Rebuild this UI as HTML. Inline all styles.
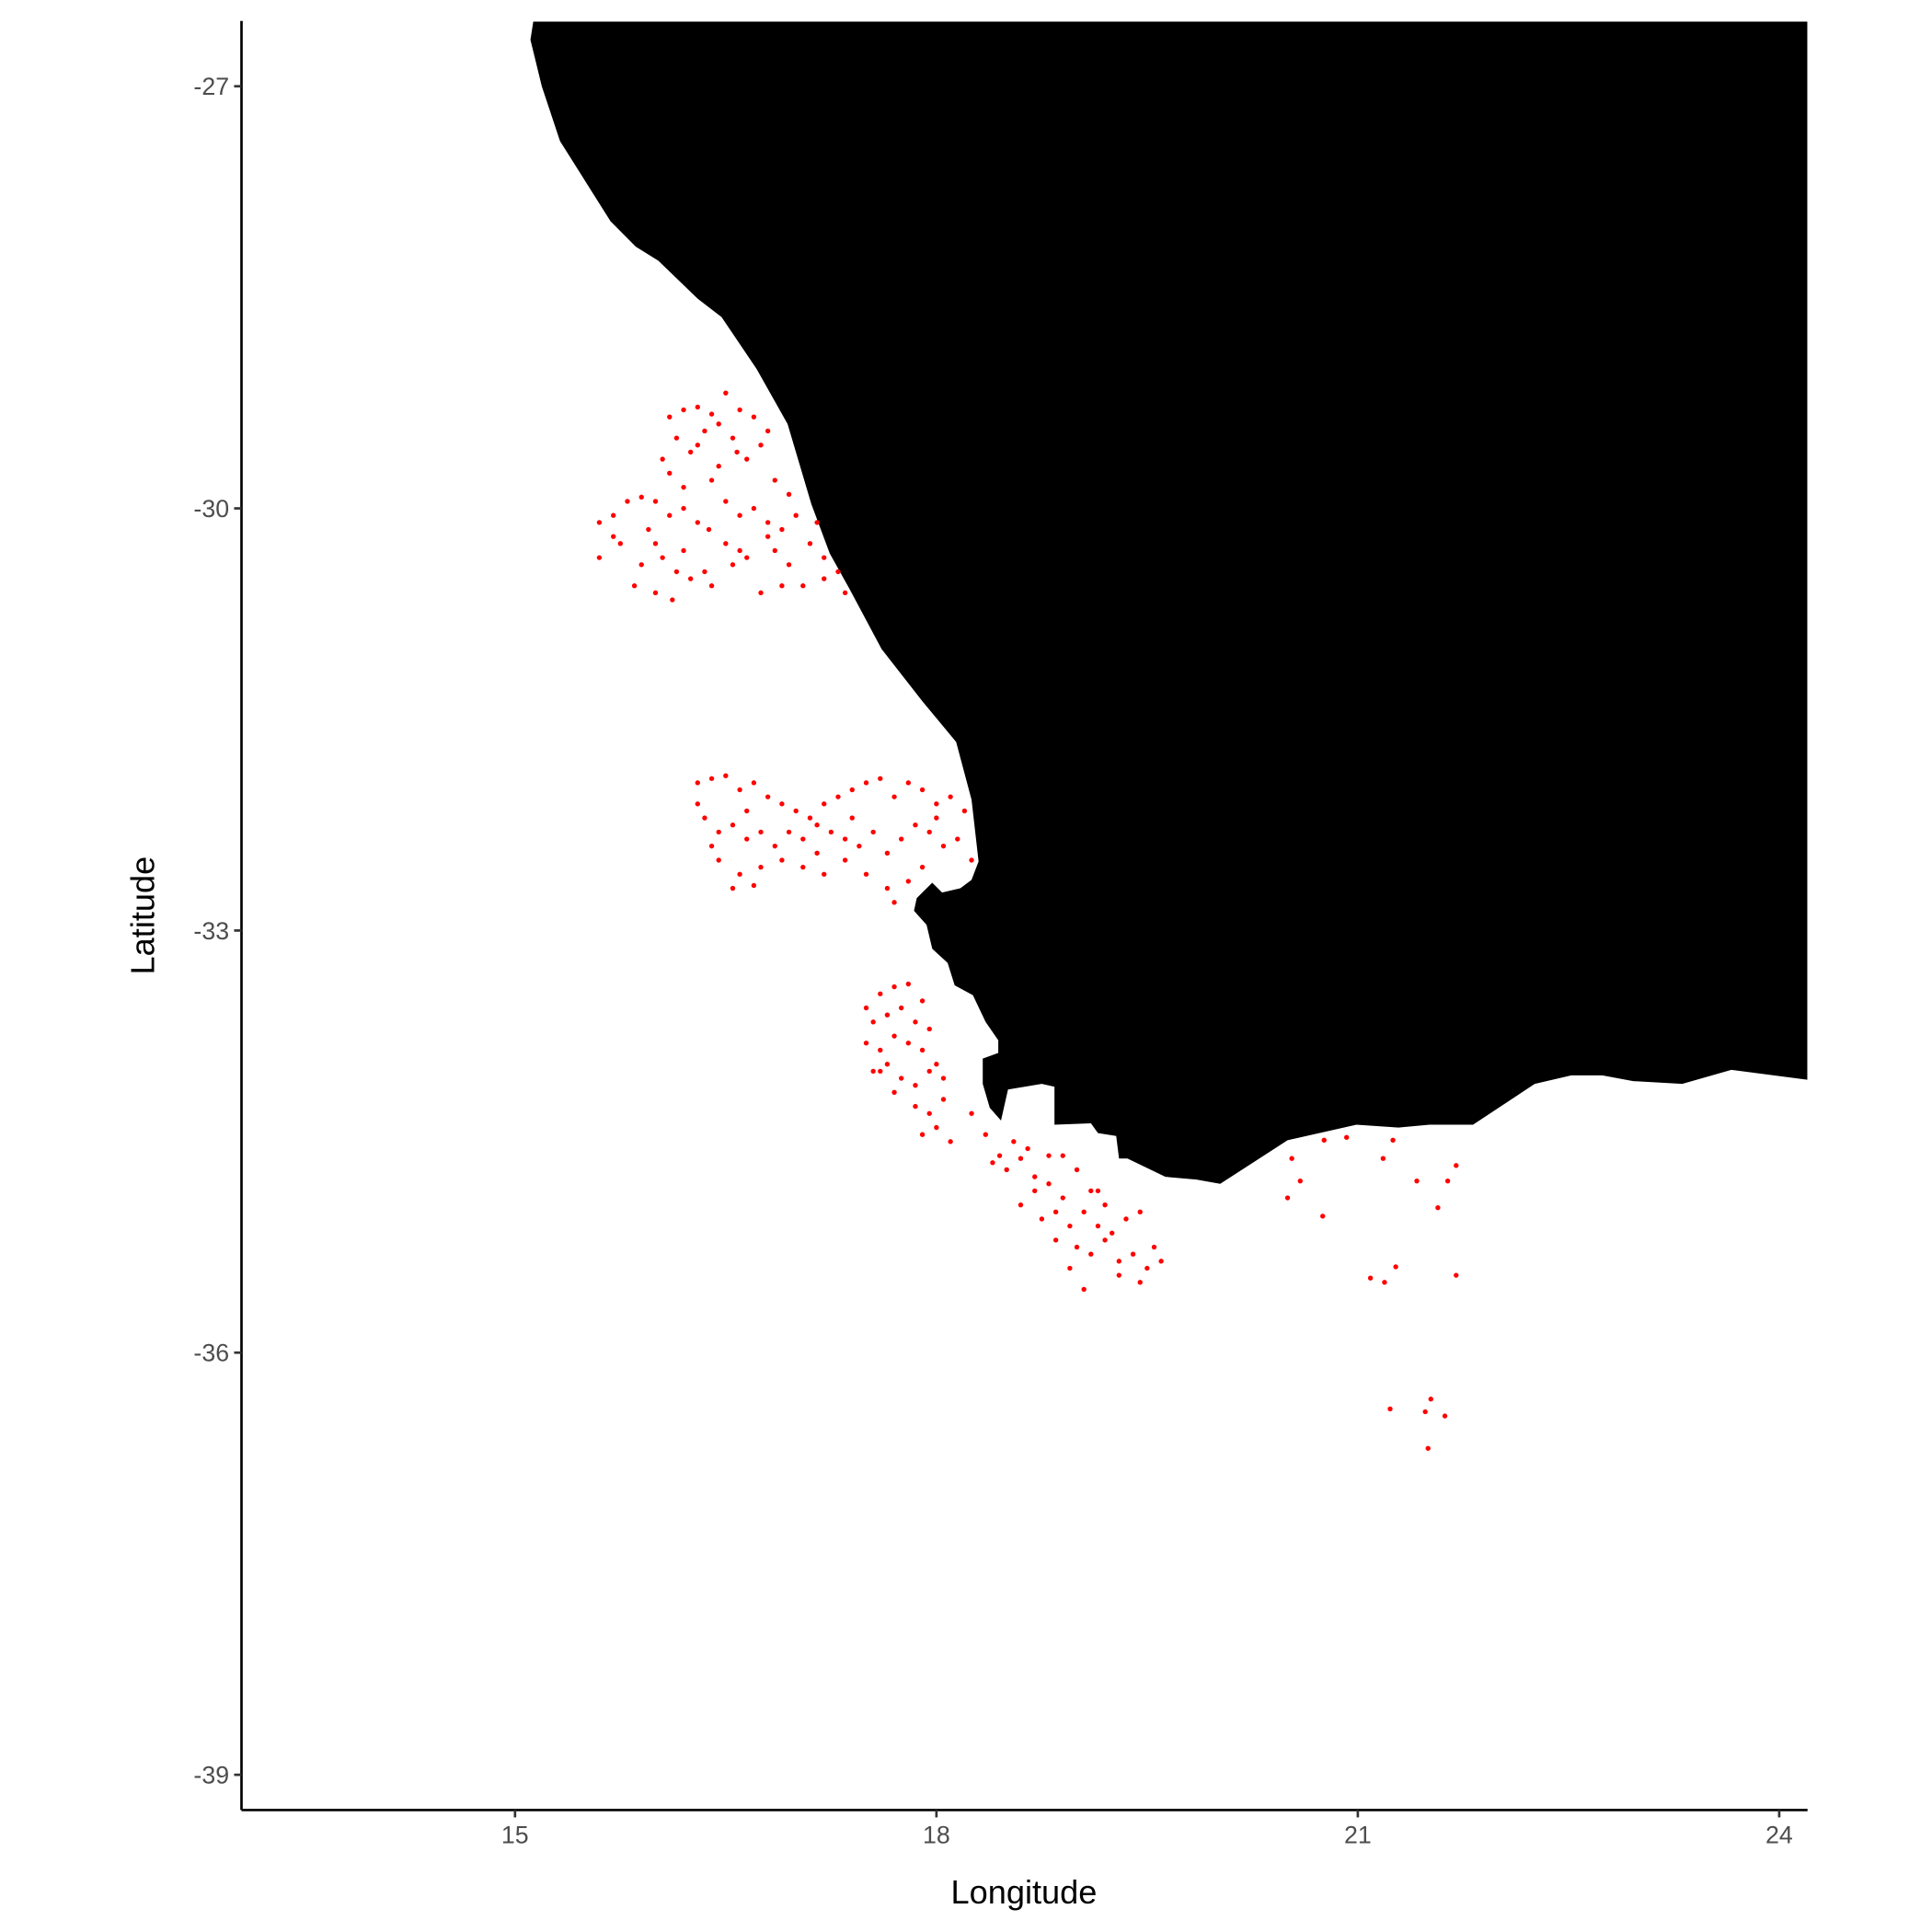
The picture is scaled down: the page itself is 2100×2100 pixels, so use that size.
<!DOCTYPE html>
<html><head><meta charset="utf-8"><style>
html,body{margin:0;padding:0;background:#fff;}
svg{display:block;}
text{font-family:"Liberation Sans",sans-serif;}
</style></head><body>
<svg id="chart" width="2100" height="2100" viewBox="0 0 1568 1568" xmlns="http://www.w3.org/2000/svg">
<g id="land"></g>
<g id="pts"></g>
<g id="axes"></g>
</svg>
<script>
const xTicks=[15,18,21,24];
const yTicks=[-27,-30,-33,-36,-39];
const coastLon=[15.13,15.11,15.19,15.32,15.68,15.86,16.02,16.30,16.47,16.72,16.94,17.11,17.24,17.38,17.61,17.90,18.14,18.25,18.30,18.25,18.17,18.04,17.97,17.86,17.84,17.93,17.97,18.08,18.13,18.26,18.35,18.44,18.44,18.33,18.33,18.38,18.46,18.51,18.75,18.84,18.84,19.10,19.15,19.28,19.30,19.36,19.63,19.85,20.02,20.50,20.99,21.29,21.51,21.82,22.26,22.52,22.74,22.96,23.31,23.66,24.20,24.20];
const coastLat=[-26.54,-26.67,-27.00,-27.39,-27.96,-28.14,-28.24,-28.51,-28.64,-29.01,-29.40,-29.97,-30.32,-30.57,-31.00,-31.37,-31.66,-32.07,-32.51,-32.64,-32.70,-32.73,-32.66,-32.77,-32.86,-32.96,-33.13,-33.23,-33.39,-33.46,-33.65,-33.78,-33.87,-33.91,-34.09,-34.26,-34.35,-34.13,-34.09,-34.11,-34.38,-34.37,-34.44,-34.46,-34.62,-34.62,-34.75,-34.77,-34.80,-34.49,-34.38,-34.40,-34.38,-34.38,-34.09,-34.03,-34.03,-34.07,-34.09,-33.99,-34.06,-26.54];
const c1Lon=[16.10,16.20,16.30,16.40,16.50,16.60,16.70,16.80,16.15,16.35,
16.55,16.75,16.05,16.25,16.45,16.65,16.85,16.95,16.20,16.40,
15.60,15.70,15.80,15.90,16.00,16.10,16.20,16.30,16.50,16.60,
16.70,16.80,16.90,17.00,17.10,17.20,17.30,15.60,15.75,15.90,
16.05,16.20,16.35,16.50,16.65,16.80,16.95,17.05,17.20,17.35,
15.85,16.00,16.12,16.25,16.40,16.55,16.75,16.90,15.70,16.15,
16.45,16.58,16.30,16.10,15.95,16.85,17.15,16.00,16.60,16.38];
const c1Lat=[-29.35,-29.30,-29.28,-29.33,-29.18,-29.30,-29.35,-29.45,-29.50,-29.45,
-29.50,-29.55,-29.65,-29.60,-29.70,-29.65,-29.80,-29.90,-29.85,-29.80,
-30.10,-30.05,-29.95,-29.92,-29.95,-30.05,-30.00,-30.10,-29.95,-30.05,
-30.00,-30.10,-30.15,-30.05,-30.25,-30.35,-30.45,-30.35,-30.25,-30.40,
-30.35,-30.30,-30.45,-30.25,-30.35,-30.20,-30.40,-30.55,-30.50,-30.60,
-30.55,-30.60,-30.65,-30.50,-30.55,-30.40,-30.60,-30.55,-30.20,-30.45,
-29.40,-29.60,-29.55,-29.75,-30.15,-30.30,-30.10,-30.25,-30.30,-30.15];
const c2Lon=[16.30,16.40,16.50,16.60,16.70,16.80,16.90,17.00,17.10,17.20,
17.30,17.40,17.50,17.60,17.70,17.80,17.90,18.00,18.10,18.20,
16.35,16.45,16.55,16.65,16.75,16.85,16.95,17.05,17.15,17.25,
17.35,17.45,17.55,17.65,17.75,17.85,17.95,18.05,18.15,18.25,
16.45,16.60,16.75,16.90,17.05,17.20,17.35,17.50,17.65,17.80,
16.55,16.70,16.40,16.30,17.15,17.40,17.70,17.90,18.00,16.65];
const c2Lat=[-31.95,-31.92,-31.90,-32.00,-31.95,-32.05,-32.10,-32.15,-32.20,-32.10,
-32.05,-32.00,-31.95,-31.92,-32.05,-31.95,-32.00,-32.10,-32.05,-32.15,
-32.20,-32.30,-32.25,-32.35,-32.30,-32.40,-32.30,-32.35,-32.25,-32.30,
-32.35,-32.40,-32.30,-32.45,-32.35,-32.25,-32.30,-32.40,-32.35,-32.50,
-32.50,-32.60,-32.55,-32.50,-32.55,-32.60,-32.50,-32.60,-32.70,-32.65,
-32.70,-32.68,-32.40,-32.10,-32.45,-32.20,-32.80,-32.55,-32.20,-32.15];
const c3Lon=[17.50,17.60,17.70,17.80,17.90,17.55,17.65,17.75,17.85,17.95,
17.50,17.60,17.70,17.80,17.90,18.00,17.55,17.65,17.75,17.85,
17.95,18.05,17.85,17.95,18.05,17.90,18.00,18.10,17.70,17.60,
18.25,18.35,18.45,18.55,18.65,18.40,18.50,18.60,18.70,18.80,
18.70,18.80,18.90,19.00,19.10,19.20,18.75,18.85,18.95,19.05,
19.15,19.25,19.35,19.45,19.55,18.85,19.00,19.10,19.20,19.30,
19.40,19.50,19.60,19.05,19.30,19.45,18.95,18.60,18.90,19.15];
const c3Lat=[-33.55,-33.45,-33.40,-33.38,-33.50,-33.65,-33.60,-33.55,-33.65,-33.70,
-33.80,-33.85,-33.75,-33.80,-33.85,-33.95,-34.00,-33.95,-34.05,-34.10,
-34.00,-34.05,-34.25,-34.30,-34.20,-34.45,-34.40,-34.50,-34.15,-34.00,
-34.30,-34.45,-34.60,-34.50,-34.55,-34.65,-34.70,-34.62,-34.75,-34.60,
-34.85,-34.80,-34.90,-34.70,-34.85,-34.95,-35.05,-35.00,-35.10,-35.00,
-35.10,-35.15,-35.05,-35.00,-35.25,-35.20,-35.25,-35.30,-35.20,-35.35,
-35.30,-35.40,-35.35,-35.55,-35.45,-35.50,-35.40,-34.95,-34.60,-34.85];
const eLon=[20.53,20.59,20.76,20.92,21.18,21.25,21.42,21.64,21.70,21.57,20.50,20.75,21.09,21.19,21.27,21.70,21.23,21.52,21.48,21.62,21.50];
const eLat=[-34.62,-34.78,-34.49,-34.47,-34.62,-34.49,-34.78,-34.78,-34.67,-34.97,-34.90,-35.03,-35.47,-35.50,-35.39,-35.45,-36.40,-36.33,-36.42,-36.45,-36.68];
const X0=196,X1=1467,Y0=17,Y1=1469;
const xs=v=>418+(v-15)*114;
const ys=v=>70-(v+27)*114.2;
const NS="http://www.w3.org/2000/svg";
function mk(t,a,p){const e=document.createElementNS(NS,t);for(const k in a)e.setAttribute(k,a[k]);p.appendChild(e);return e;}
const land=document.getElementById('land');
const poly=mk('polygon',{points:coastLon.map((l,i)=>xs(l).toFixed(1)+','+ys(coastLat[i]).toFixed(1)).join(' '),fill:'#000'},land);


const pts=document.getElementById('pts');
[[c1Lon,c1Lat],[c2Lon,c2Lat],[c3Lon,c3Lat],[eLon,eLat]].forEach(([lo,la])=>{
 const n=Math.min(lo.length,la.length);
 for(let i=0;i<n;i++){
  const c=mk('circle',{cx:xs(lo[i]),cy:ys(la[i]),r:2,fill:'#ff0000'},pts);
  
  
 }
});
const ax=document.getElementById('axes');
const xl=mk('line',{x1:X0,y1:Y1,x2:X1,y2:Y1,stroke:'#000','stroke-width':2},ax);


const yl=mk('line',{x1:X0,y1:Y0,x2:X0,y2:Y1,stroke:'#000','stroke-width':2},ax);


xTicks.forEach(t=>{
 const x=xs(t);
 const tk=mk('line',{x1:x,y1:Y1,x2:x,y2:Y1+6,stroke:'#333','stroke-width':2},ax);
 
 
 const tx=mk('text',{x:x,y:Y1+27,'text-anchor':'middle','font-size':20,fill:'#4d4d4d'},ax);
 tx.textContent=t;
 
 
});
yTicks.forEach(t=>{
 const y=ys(t);
 const tk=mk('line',{x1:X0-6,y1:y,x2:X0,y2:y,stroke:'#333','stroke-width':2},ax);
 
 
 const tx=mk('text',{x:X0-10,y:y+7,'text-anchor':'end','font-size':20,fill:'#4d4d4d'},ax);
 tx.textContent=t;
 
 
});
const xt=mk('text',{x:831,y:1545,'text-anchor':'middle','font-size':27,fill:'#000'},ax);
xt.textContent='Longitude';


const yt=mk('text',{x:125,y:743,'text-anchor':'middle','font-size':27,fill:'#000',transform:'rotate(-90 125 743)'},ax);
yt.textContent='Latitude';


</script>
</body></html>
